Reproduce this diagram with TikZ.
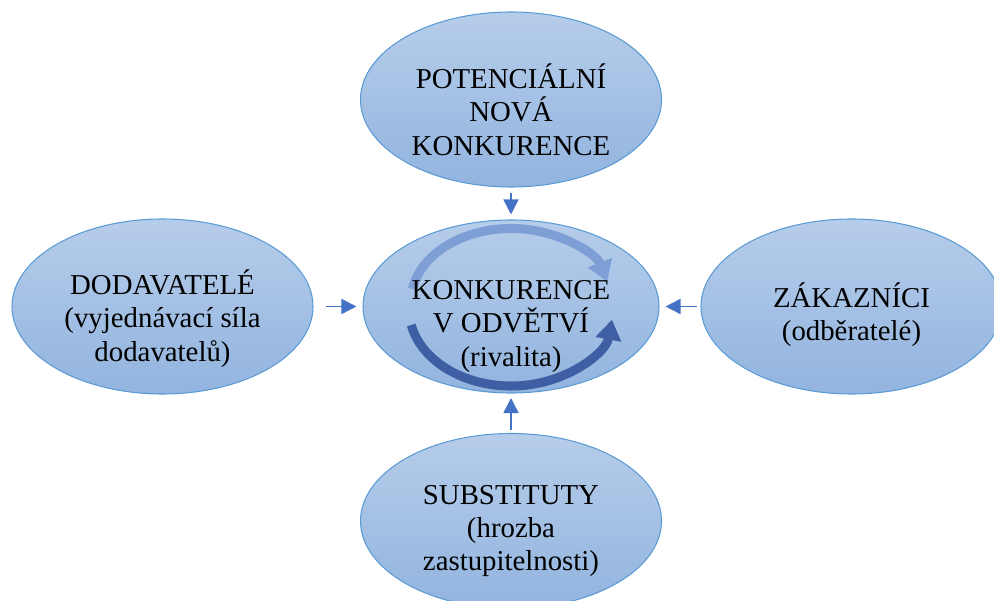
\documentclass[tikz,border=0pt]{standalone}
\usepackage{fontspec}
\setmainfont{Liberation Serif}
\usetikzlibrary{shapes.geometric, arrows.meta, positioning}

\definecolor{bubTop}{HTML}{B6CDEA}
\definecolor{bubBot}{HTML}{92B4DF}
\definecolor{bubLine}{HTML}{5B9BD5}
\definecolor{arrBlue}{HTML}{4472C4}
\definecolor{cycLight}{HTML}{7E9ED6}
\definecolor{cycDark}{HTML}{3E5FA3}

\tikzset{
  bubble/.style={ellipse, draw=bubLine, line width=0.6pt, top color=bubTop, bottom color=bubBot,
    minimum width=6.02cm, minimum height=3.5cm, inner sep=0pt},
  bubtext/.style={align=center, inner sep=0pt, font=\fontsize{16.4pt}{19pt}\selectfont},
  flow/.style={draw=arrBlue, line width=0.9pt, -{Triangle[length=0.3cm, width=0.3cm]}},
  cyc/.style={line width=0.18cm, -{Triangle[length=0.4cm, width=0.5cm]}}
}

\begin{document}
\begin{tikzpicture}
                \useasboundingbox (0,0) rectangle (19.88,12);

                % the five forces
                \node[bubble] (nova) at (10.22, 10.01) {};
                \node[bubble, minimum width=5.92cm, minimum height=3.46cm] (konk) at (10.22, 5.87) {};
                \node[bubble] (dod) at (3.25, 5.87) {};
                \node[bubble] (zak) at (17.03, 5.87) {};
                \node[bubble] (subst) at (10.22, 1.58) {};

                % rivalry cycle
                \draw[cyc, draw=cycLight] ([yshift=0.1cm]konk.center) ++(170:2.0 and 1.46)
                    arc[start angle=170, end angle=16, x radius=2.0, y radius=1.46];
                \draw[cyc, draw=cycDark] ([yshift=-0.05cm]konk.center) ++(192:2.04 and 1.54)
                    arc[start angle=192, end angle=352, x radius=2.04, y radius=1.54];

                % texts
                \node[bubtext] (novaT) at ([yshift=-0.2cm]nova.center) {POTENCIÁLNÍ\\NOVÁ\\KONKURENCE};
                \node[bubtext] (konkT) at ([yshift=-0.4cm]konk.center) {KONKURENCE\\V ODVĚTVÍ\\(rivalita)};
                \node[bubtext] (dodT) at ([yshift=-0.24cm]dod.center) {DODAVATELÉ\\(vyjednávací síla\\dodavatelů)};
                \node[bubtext] (zakT) at ([yshift=-0.16cm]zak.center) {ZÁKAZNÍCI\\(odběratelé)};
                \node[bubtext] (substT) at ([yshift=-0.2cm]subst.center) {SUBSTITUTY\\(hrozba\\zastupitelnosti)};

                % arrows into the industry
                \draw[flow, shorten <=0.1cm, shorten >=0.1cm] (nova) -- (konk);
                \draw[flow, shorten <=0.24cm, shorten >=0.12cm] (dod) -- (konk);
                \draw[flow, shorten <=0.07cm, shorten >=0.12cm] (zak) -- (konk);
                \draw[flow, shorten <=0.06cm, shorten >=0.09cm] (subst) -- (konk);
\end{tikzpicture}
\end{document}
